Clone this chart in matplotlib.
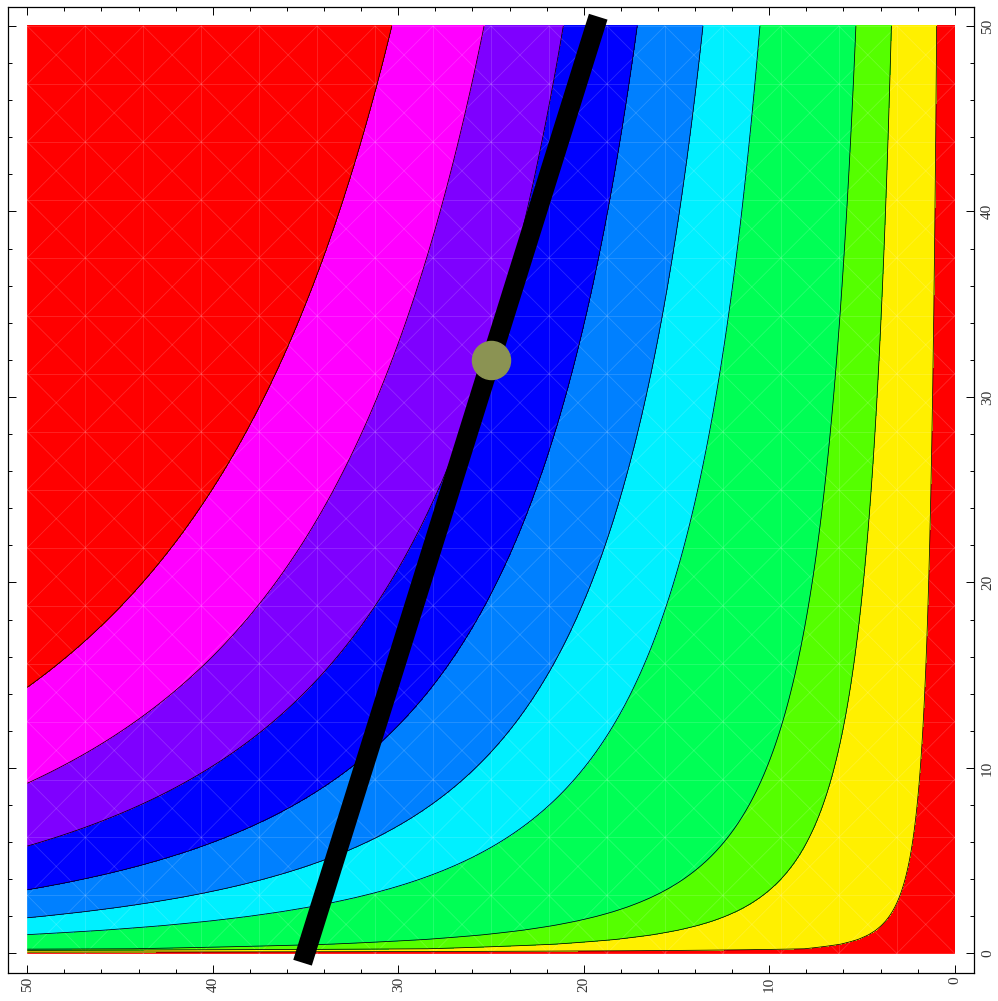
import numpy as np
import matplotlib
matplotlib.use('Agg')
import matplotlib.pyplot as plt
from matplotlib.ticker import MultipleLocator

# exponentes de la utilidad Cobb-Douglas U = x^a * y^b
exp_x = 5 / 7
exp_y = 2 / 7

# niveles de las curvas de nivel
niveles = [3.0, 7.35, 10.1, 16.4, 19.7, 23.25, 27.0, 30.8, 35.0]
colores = ['#ff0000', '#fff000', '#55ff00', '#00ff55', '#00f0ff',
           '#0080ff', '#0000ff', '#7f00ff', '#ff00ff', '#ff0000']

# recta de presupuesto y optimo
recta_x = [35.16, 19.22]
recta_y = [-0.5, 50.5]
opt_x = [25]
opt_y = [32]

fig = plt.figure(figsize=(9.98, 10.01), dpi=100)
ax = fig.add_axes([8 / 998, (1001 - 972.7) / 1001, 966 / 998, 966 / 1001])

# malla
xs = np.linspace(0, 50, 801)
ys = np.linspace(0, 50, 201)
X, Y = np.meshgrid(xs, ys)
U = X ** exp_x * Y ** exp_y

limites = [-1] + niveles + [U.max() + 1]
ax.contourf(X, Y, U, levels=limites, colors=colores, zorder=1)
ax.contour(X, Y, U, levels=niveles, colors='black', linewidths=0.55, zorder=2)

# textura tenue de la malla de triangulos (como en el render original)
paso = 50 / 16
estilo = dict(color='white', lw=0.6, alpha=0.16, zorder=1.5)
for k in range(17):
    ax.plot([k * paso, k * paso], [0, 50], **estilo)
    ax.plot([0, 50], [k * paso, k * paso], **estilo)
for k in range(1, 32):
    c = k * paso
    # diagonales y = x + (c - 50)
    d = c - 50
    ax.plot([max(0, -d), min(50, 50 - d)], [max(0, d), min(50, 50 + d)], **estilo)
    # antidiagonales x + y = c
    ax.plot([max(0, c - 50), min(50, c)], [c - max(0, c - 50), c - min(50, c)], **estilo)

ax.plot(recta_x, recta_y, color='black', lw=14, solid_capstyle='butt', zorder=3)
ax.plot(opt_x, opt_y, 'o', color='#8b9353', markersize=27.4, zorder=4)

ax.set_xlim(51.04, -1.04)
ax.set_ylim(-1.04, 51.04)

for s in ax.spines.values():
    s.set_linewidth(0.9)

ax.xaxis.set_major_locator(MultipleLocator(10))
ax.xaxis.set_minor_locator(MultipleLocator(2))
ax.yaxis.set_major_locator(MultipleLocator(10))
ax.yaxis.set_minor_locator(MultipleLocator(2))
ax.tick_params(which='both', direction='in', top=True, bottom=True, left=True, right=True,
               labelleft=False, labelright=True, labelbottom=True, labeltop=False)
ax.tick_params(which='major', length=5.5, width=0.7)
ax.tick_params(which='minor', length=3, width=0.7)
ax.tick_params(axis='x', pad=3)
ax.tick_params(axis='y', pad=5)

for lab in ax.get_xticklabels() + ax.get_yticklabels():
    lab.set_rotation(90)
    lab.set_fontfamily('Liberation Serif')
    lab.set_fontsize(11)
    lab.set_color('#333333')
for lab in ax.get_yticklabels():
    lab.set_verticalalignment('center')

fig.savefig('out.png', dpi=100)
